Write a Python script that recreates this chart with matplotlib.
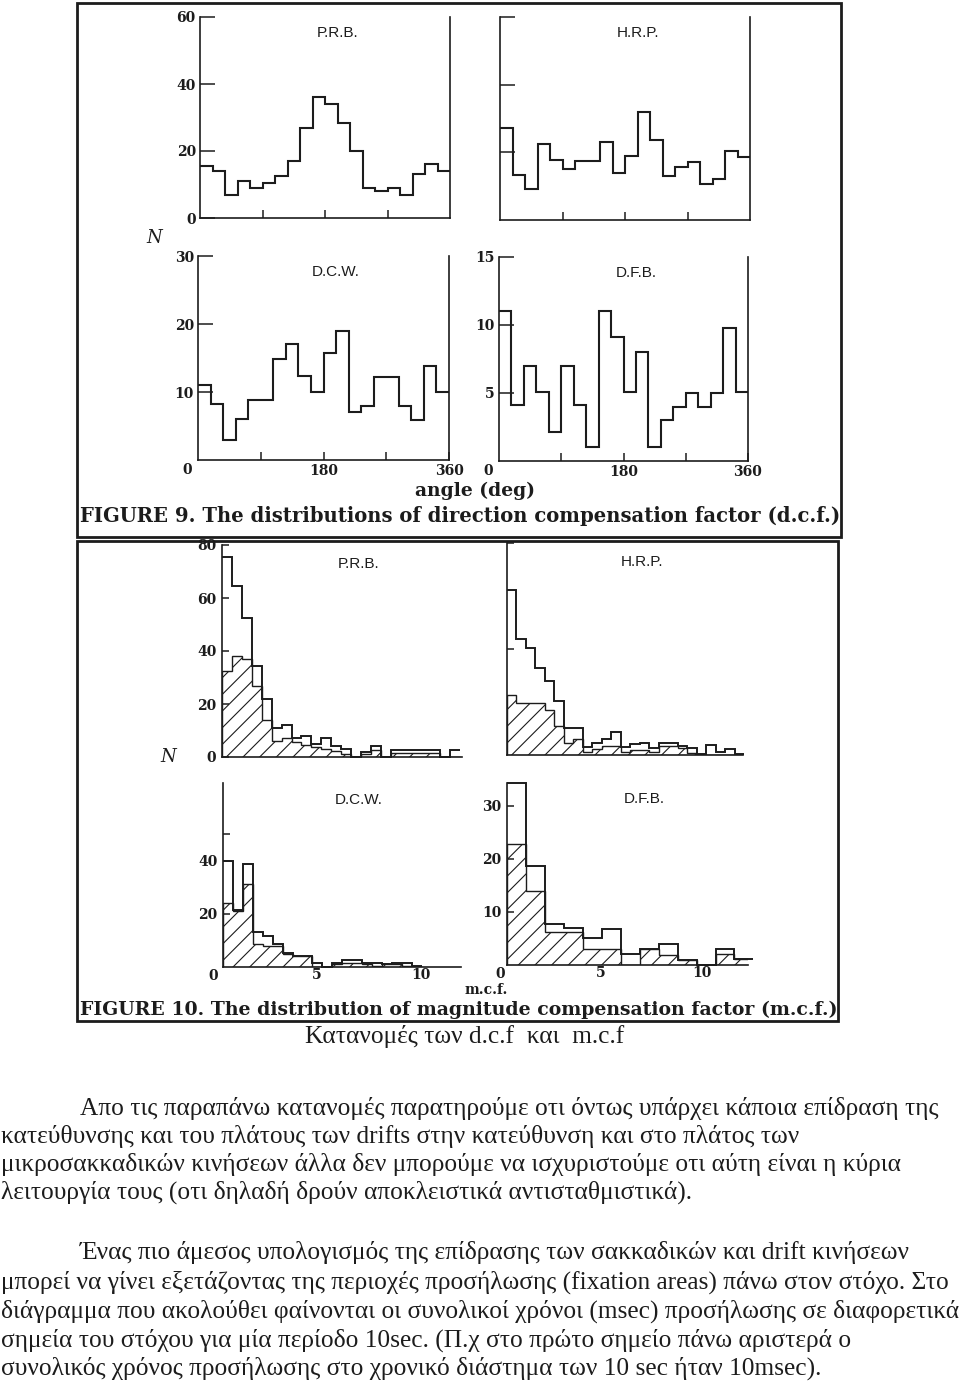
import numpy as np
import matplotlib
matplotlib.use("Agg")
import matplotlib.pyplot as plt
from matplotlib.patches import Rectangle

# ---- data ----
# figure 9: d.c.f. histograms, 20 bins of 18 deg
angle_edges = np.linspace(0, 360, 21)
prb9 = [15.6, 14, 7, 11, 9, 10.5, 12.5, 17, 27, 36, 34, 28.3, 20, 9, 8, 9, 7, 13, 16, 14]
hrp9 = [27.1, 13.3, 9.3, 22.4, 17.6, 15.1, 17.4, 17.4, 23.0, 13.9, 19.0, 31.9, 23.7,
        13.0, 15.8, 17.2, 10.7, 12.0, 20.3, 18.5]
dcw9 = [11.1, 8.2, 3.0, 6.0, 8.8, 8.8, 14.9, 17.0, 12.3, 10.0, 15.8, 19.0, 7.1, 8.0,
        12.2, 12.2, 8.0, 5.9, 13.8, 10.0]
dfb9 = [11.0, 4.1, 7.0, 5.1, 2.1, 7.0, 4.1, 1.0, 11.0, 9.1, 5.1, 8.0, 1.0, 3.0, 4.0,
        5.0, 4.0, 5.0, 9.8, 5.1]

# figure 10: m.c.f. histograms (total and hatched part)
prb10_tot = [75.6, 64.6, 52.6, 34.4, 22, 11, 12, 7.2, 8, 5, 7.2, 4.2, 3, 0, 2, 4.2, 0,
             2.5, 2.5, 2.5, 2.5, 2.5, 0, 2.5]
prb10_hat = [32.4, 38, 37, 26.8, 13.9, 6, 7.2, 5.7, 4.7, 3.8, 3.1, 2.1, 1, 0, 1.3, 2.5, 0,
             1.5, 1.5, 1.5, 1.5, 1.5, 0, 0]
hrp10_tot = [62.3, 43.8, 40.3, 32.7, 28.1, 20.2, 10.1, 10.1, 3.1, 4.4, 6.0, 8.8, 3.1, 4.0,
             4.7, 2.5, 4.7, 4.7, 3.5, 2.5, 0.3, 3.8, 1.3, 2.1, 0.3]
hrp10_hat = [22.7, 19.5, 19.5, 19.5, 16.8, 11.0, 4.4, 6.0, 1.3, 2.1, 3.5, 3.5, 1.0, 1.9,
             1.9, 1.3, 3.5, 3.5, 2.5, 0.6, 0, 0, 0, 0, 0]
dcw10_tot = [40, 21.4, 38.7, 13, 11.7, 8.8, 5.3, 4.2, 4.2, 1.5, 0, 1.5, 2.5, 2.5, 1.5,
             1.5, 1.0, 1.5, 1.5, 0.5]
dcw10_hat = [24, 21, 31.4, 8.8, 7.9, 7.9, 5, 4.2, 4.2, 0, 0, 1, 1.5, 1.5, 1, 0.5, 1, 1,
             0.5, 0]
dfb10_tot = [34.3, 18.7, 7.7, 6.9, 5.0, 6.8, 2.1, 3.0, 4.0, 0.9, 0, 3.0, 1.1]
dfb10_hat = [22.8, 14.0, 6.2, 6.2, 3.0, 3.0, 0, 3.0, 1.9, 0.9, 0, 2.0, 1.1]

fig9_caption = "FIGURE 9. The distributions of direction compensation factor (d.c.f.)"
fig10_caption = "FIGURE 10. The distribution of magnitude compensation factor (m.c.f.)"
caption = "Κατανομές των d.c.f  και  m.c.f"
para1 = ["Απο τις παραπάνω κατανομές παρατηρούμε οτι όντως υπάρχει κάποια επίδραση της",
         "κατεύθυνσης και του πλάτους των drifts στην κατεύθυνση και στο πλάτος των",
         "μικροσακκαδικών κινήσεων άλλα δεν μπορούμε να ισχυριστούμε οτι αύτη είναι η κύρια",
         "λειτουργία τους (οτι δηλαδή δρούν αποκλειστικά αντισταθμιστικά)."]
para2 = ["Ένας πιο άμεσος υπολογισμός της επίδρασης των σακκαδικών και drift κινήσεων",
         "μπορεί να γίνει εξετάζοντας της περιοχές προσήλωσης (fixation areas) πάνω στον στόχο. Στο",
         "διάγραμμα που ακολούθει φαίνονται οι συνολικοί χρόνοι (msec) προσήλωσης σε διαφορετικά",
         "σημεία του στόχου για μία περίοδο 10sec. (Π.χ στο πρώτο σημείο πάνω αριστερά ο",
         "συνολικός χρόνος προσήλωσης στο χρονικό διάστημα των 10 sec ήταν 10msec)."]

W, H = 960, 1387
INK = "#1c1c1c"
plt.rcParams["hatch.linewidth"] = 0.8
plt.rcParams["hatch.color"] = INK

fig = plt.figure(figsize=(9.6, 13.87), dpi=100)
fig.patch.set_facecolor("white")
renderer = fig.canvas.get_renderer()


def px_axes(l, t, r, b):
    return fig.add_axes([l / W, 1 - b / H, (r - l) / W, (b - t) / H])


def px_text(x, y, s, size, width=None, **kw):
    t = fig.text(x / W, 1 - y / H, s, fontsize=size, va="center", color=INK, **kw)
    if width:
        w = t.get_window_extent(renderer).width
        t.set_fontsize(size * width / w)
    return t


def box(l, t, r, b):
    fig.add_artist(Rectangle((l / W, 1 - b / H), (r - l) / W, (b - t) / H, fill=False,
                             lw=2, edgecolor=INK, transform=fig.transFigure))


tick_font = dict(family="DejaVu Serif", size=10, weight="bold")
title_font = dict(family="Liberation Sans", size=11)

# ---------------- FIGURE 9 ----------------
box(77, 3, 841, 537)


def panel9(ax, values, ymax, yticks, ylabels, title, xlabels=False):
    ax.stairs(values, angle_edges, color=INK, lw=1.5, baseline=None)
    ax.set_xlim(0, 360)
    ax.set_ylim(0, ymax)
    ax.patch.set_alpha(0)
    ax.spines["top"].set_visible(False)
    for sp in ["left", "bottom", "right"]:
        ax.spines[sp].set_linewidth(1.2)
        ax.spines[sp].set_color(INK)
    ax.set_yticks(yticks)
    ax.set_yticklabels(ylabels, fontdict=tick_font)
    ax.tick_params(axis="y", direction="in", length=11, width=1.1, pad=3, colors=INK)
    ax.set_xticks([90, 180, 270])
    ax.tick_params(axis="x", direction="in", length=6, width=1.1, colors=INK)
    if xlabels:
        ax.set_xticks([90, 180, 270, 360])
        ax.set_xticklabels(["", "180", "", "360"], fontdict=tick_font)
        ax.tick_params(axis="x", pad=3)
        ax.text(-16, -0.05, "0", transform=ax.get_xaxis_transform(), ha="center",
                va="center", color=INK, **tick_font)
    else:
        ax.set_xticklabels([])
    ax.text(0.55, 0.92, title, transform=ax.transAxes, ha="center", va="center",
            color=INK, fontdict=title_font)


ax = px_axes(200, 17, 450, 218)
panel9(ax, prb9, 60, [0, 20, 40, 60], ["0", "20", "40", "60"], "P.R.B.")
ax = px_axes(500, 17, 750, 220)
panel9(ax, hrp9, 60, [20, 40, 60], ["", "", ""], "H.R.P.")
ax = px_axes(198, 256, 449, 460)
panel9(ax, dcw9, 30, [10, 20, 30], ["10", "20", "30"], "D.C.W.", xlabels=True)
ax = px_axes(499, 257, 748, 461)
panel9(ax, dfb9, 15, [5, 10, 15], ["5", "10", "15"], "D.F.B.", xlabels=True)

px_text(146, 238, "N", 13, family="DejaVu Serif", style="italic")
px_text(475, 491, "angle (deg)", 12, width=120, ha="center", family="DejaVu Serif",
        weight="bold")
px_text(80, 516, fig9_caption, 12, width=758, family="DejaVu Serif", weight="bold")

# ---------------- FIGURE 10 ----------------
box(77, 541, 838, 1021)


def panel10(ax, x0, width, tot, hat, xlim, ymax, yticks, ylabels, title, xlabels=False):
    edges = x0 + width * np.arange(len(tot) + 1)
    ax.stairs(hat, edges, fill=True, facecolor="white", edgecolor=INK, hatch="//",
              lw=1.0)
    ax.stairs(tot, edges, color=INK, lw=1.4, baseline=None, clip_on=False)
    ax.set_xlim(xlim)
    ax.set_ylim(0, ymax)
    ax.patch.set_alpha(0)
    ax.spines["top"].set_visible(False)
    ax.spines["right"].set_visible(False)
    for sp in ["left", "bottom"]:
        ax.spines[sp].set_linewidth(1.2)
        ax.spines[sp].set_color(INK)
    ax.set_yticks(yticks)
    ax.set_yticklabels(ylabels, fontdict=tick_font)
    ax.tick_params(axis="y", direction="in", length=5, width=1.1, pad=4, colors=INK)
    if xlabels:
        ax.set_xticks([5, 10])
        ax.set_xticklabels(["5", "10"], fontdict=tick_font)
        ax.tick_params(axis="x", length=0, pad=1, colors=INK)
        ax.text(0, -0.01, "0", transform=ax.get_xaxis_transform(), ha="center",
                va="top", color=INK, **tick_font)
    else:
        ax.set_xticks([])
    ax.text(0.57, 0.91, title, transform=ax.transAxes, ha="center", va="center",
            color=INK, fontdict=title_font)


ax = px_axes(222, 545, 462, 757)
panel10(ax, 0.45, 0.48, prb10_tot, prb10_hat, (0.45, 12.05), 80,
        [0, 20, 40, 60, 80], ["0", "20", "40", "60", "80"], "P.R.B.")
ax = px_axes(507, 543, 743, 755)
panel10(ax, 0.35, 0.47, hrp10_tot, hrp10_hat, (0.35, 12.05), 80,
        [40, 80], ["", ""], "H.R.P.")
ax = px_axes(223, 783, 461, 967)
panel10(ax, 0.45, 0.48, dcw10_tot, dcw10_hat, (0.45, 11.95), 69.3,
        [20, 40, 50], ["20", "40", ""], "D.C.W.", xlabels=True)
ax = px_axes(507, 783, 748, 965)
panel10(ax, 0.35, 0.94, dfb10_tot, dfb10_hat, (0.35, 12.3), 34.3,
        [10, 20, 30], ["10", "20", "30"], "D.F.B.", xlabels=True)

px_text(160, 757, "N", 13, family="DejaVu Serif", style="italic")
px_text(486, 990, "m.c.f.", 10, ha="center", family="DejaVu Serif", weight="bold")
px_text(80, 1010, fig10_caption, 12, width=755, family="DejaVu Serif", weight="bold")

# ---------------- text below ----------------
serif = "Liberation Serif"


def fit_size(line, target):
    probe = fig.text(0, 0, line, fontsize=16, family=serif)
    w = probe.get_window_extent(renderer).width
    probe.remove()
    return 16 * target / w


body_size = min(fit_size(para1[0], 860), fit_size(para2[2], 954))

px_text(465, 1037, caption, body_size, ha="center", family=serif)
ys1 = [1108, 1136, 1164, 1192]
for i, (line, y) in enumerate(zip(para1, ys1)):
    px_text(80 if i == 0 else 1, y, line, body_size, family=serif)
ys2 = [1253, 1282, 1311, 1340, 1368]
for i, (line, y) in enumerate(zip(para2, ys2)):
    px_text(80 if i == 0 else 1, y, line, body_size, family=serif)

fig.savefig("out.png", dpi=100, facecolor="white")
